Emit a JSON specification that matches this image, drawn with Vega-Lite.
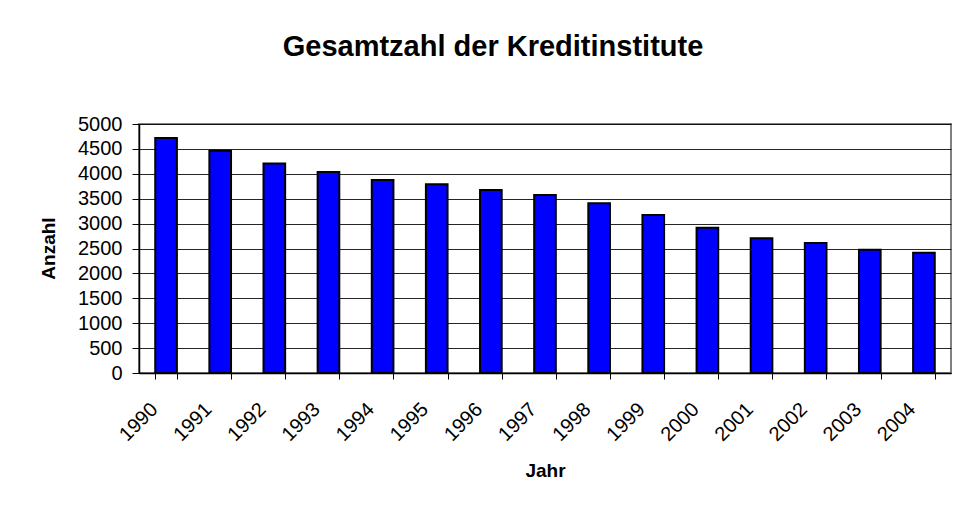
{
  "$schema": "https://vega.github.io/schema/vega-lite/v6.json",
  "autosize": {"type": "none"},
  "padding": {"left": 139, "top": 124, "right": 9, "bottom": 133},
  "width": 812,
  "height": 249,
  "background": "#ffffff",
  "title": {
    "text": "Gesamtzahl der Kreditinstitute",
    "font": "Liberation Sans",
    "fontSize": 29,
    "fontWeight": "bold",
    "color": "#000000",
    "anchor": "middle",
    "frame": "group",
    "dx": -52,
    "baseline": "alphabetic",
    "offset": 29
  },
  "data": {
    "values": [
      {"Jahr": "1990", "Anzahl": 4720},
      {"Jahr": "1991", "Anzahl": 4463},
      {"Jahr": "1992", "Anzahl": 4206},
      {"Jahr": "1993", "Anzahl": 4038},
      {"Jahr": "1994", "Anzahl": 3877},
      {"Jahr": "1995", "Anzahl": 3789},
      {"Jahr": "1996", "Anzahl": 3674},
      {"Jahr": "1997", "Anzahl": 3575},
      {"Jahr": "1998", "Anzahl": 3409},
      {"Jahr": "1999", "Anzahl": 3174},
      {"Jahr": "2000", "Anzahl": 2919},
      {"Jahr": "2001", "Anzahl": 2705},
      {"Jahr": "2002", "Anzahl": 2611},
      {"Jahr": "2003", "Anzahl": 2477},
      {"Jahr": "2004", "Anzahl": 2416}
    ]
  },
  "mark": {"type": "bar", "color": "#0000ff", "stroke": "#000000", "strokeWidth": 2},
  "encoding": {
    "x": {
      "field": "Jahr",
      "type": "ordinal",
      "scale": {"paddingInner": 0.6, "paddingOuter": 0.3},
      "axis": {
        "title": "Jahr",
        "titleFont": "Liberation Sans",
        "titleFontSize": 19,
        "titleFontWeight": "bold",
        "titleColor": "#000000",
        "titleBaseline": "middle",
        "titleY": 97,
        "labelFont": "Liberation Sans",
        "labelFontSize": 20,
        "labelColor": "#000000",
        "labelAngle": -45,
        "labelAlign": "right",
        "labelBaseline": "middle",
        "labelPadding": 27,
        "labelOffset": -12,
        "tickBand": "extent",
        "tickSize": 6,
        "tickColor": "#000000",
        "domainColor": "#000000",
        "domainWidth": 1.5,
        "grid": false
      }
    },
    "y": {
      "field": "Anzahl",
      "type": "quantitative",
      "scale": {"domain": [0, 5000], "nice": false},
      "axis": {
        "title": "Anzahl",
        "titleFont": "Liberation Sans",
        "titleFontSize": 19,
        "titleFontWeight": "bold",
        "titleColor": "#000000",
        "titleX": -91,
        "titleY": 124,
        "titleBaseline": "middle",
        "titleAngle": -90,
        "values": [0, 500, 1000, 1500, 2000, 2500, 3000, 3500, 4000, 4500, 5000],
        "format": "d",
        "labelFont": "Liberation Sans",
        "labelFontSize": 20,
        "labelColor": "#000000",
        "labelPadding": 10,
        "labelBaseline": "middle",
        "tickSize": 7,
        "tickColor": "#000000",
        "domainColor": "#000000",
        "domainWidth": 1.5,
        "grid": true,
        "gridColor": "#000000",
        "gridOpacity": 0.85,
        "gridWidth": 1
      }
    }
  },
  "config": {
    "view": {"stroke": "#808080", "strokeWidth": 2}
  }
}
